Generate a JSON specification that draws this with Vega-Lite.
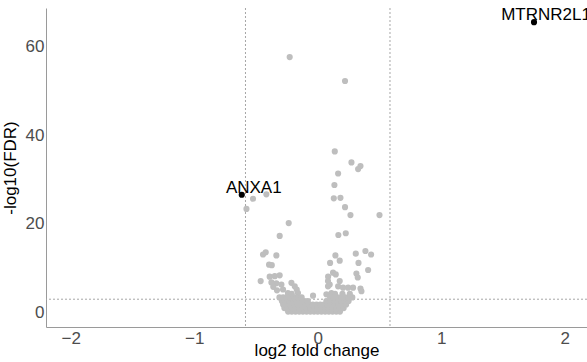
{
  "$schema": "https://vega.github.io/schema/vega-lite/v6.json",
  "width": 541,
  "height": 319,
  "autosize": {"type": "none"},
  "padding": {"left": 46, "top": 8, "right": 0, "bottom": 35},
  "background": "white",
  "config": {
    "view": {"stroke": null},
    "font": "Liberation Sans",
    "axis": {"grid": false, "ticks": false, "domainColor": "#9a9a9a", "domainWidth": 1, "labelColor": "#4d4d4d", "labelFontSize": 17, "titleFontSize": 17, "titleFontWeight": "normal", "titleColor": "#000000", "labelFont": "Liberation Sans", "titleFont": "Liberation Sans"}
  },
  "datasets": {
    "genes": [
      {"lfc": -0.227, "nlp": 57.7, "gene": ""}, {"lfc": 0.221, "nlp": 52.3, "gene": ""},
      {"lfc": -0.524, "nlp": 25.7, "gene": ""}, {"lfc": -0.416, "nlp": 26.7, "gene": ""}, {"lfc": -0.577, "nlp": 23.4, "gene": ""}, {"lfc": -0.235, "nlp": 20.2, "gene": ""}, {"lfc": -0.308, "nlp": 17.3, "gene": ""},
      {"lfc": 0.138, "nlp": 36.4, "gene": ""}, {"lfc": 0.273, "nlp": 33.9, "gene": ""}, {"lfc": 0.346, "nlp": 33.1, "gene": ""}, {"lfc": 0.327, "nlp": 32.4, "gene": ""}, {"lfc": 0.165, "nlp": 31.4, "gene": ""}, {"lfc": 0.135, "nlp": 28.8, "gene": ""}, {"lfc": 0.130, "nlp": 25.8, "gene": ""}, {"lfc": 0.184, "nlp": 25.9, "gene": ""}, {"lfc": 0.221, "nlp": 23.8, "gene": ""}, {"lfc": 0.265, "nlp": 22.0, "gene": ""}, {"lfc": 0.50, "nlp": 22.0, "gene": ""}, {"lfc": 0.167, "nlp": 17.5, "gene": ""}, {"lfc": 0.227, "nlp": 17.9, "gene": ""}, {"lfc": 0.386, "nlp": 13.9, "gene": ""}, {"lfc": 0.432, "nlp": 13.1, "gene": ""}, {"lfc": 0.308, "nlp": 13.3, "gene": ""}, {"lfc": 0.143, "nlp": 12.9, "gene": ""}, {"lfc": 0.178, "nlp": 11.7, "gene": ""}, {"lfc": 0.10, "nlp": 11.2, "gene": ""}, {"lfc": 0.33, "nlp": 11.2, "gene": ""}, {"lfc": 0.408, "nlp": 9.6, "gene": ""}, {"lfc": 0.313, "nlp": 8.8, "gene": ""}, {"lfc": 0.324, "nlp": 7.9, "gene": ""}, {"lfc": 0.124, "nlp": 9.0, "gene": ""}, {"lfc": 0.084, "nlp": 8.1, "gene": ""}, {"lfc": 0.146, "nlp": 8.6, "gene": ""}, {"lfc": 0.097, "nlp": 6.3, "gene": ""}, {"lfc": 0.111, "nlp": 4.4, "gene": ""}, {"lfc": 0.07, "nlp": 4.1, "gene": ""}, {"lfc": -0.038, "nlp": 3.8, "gene": ""}, {"lfc": 0.205, "nlp": 5.6, "gene": ""}, {"lfc": 0.246, "nlp": 5.6, "gene": ""}, {"lfc": 0.286, "nlp": 5.6, "gene": ""}, {"lfc": 0.346, "nlp": 5.4, "gene": ""}, {"lfc": 0.354, "nlp": 4.8, "gene": ""}, {"lfc": 0.165, "nlp": 5.9, "gene": ""}, {"lfc": 0.178, "nlp": 7.1, "gene": ""}, {"lfc": 0.083, "nlp": 7.1, "gene": ""}, {"lfc": 0.083, "nlp": 5.9, "gene": ""},
      {"lfc": -0.443, "nlp": 13.1, "gene": ""}, {"lfc": -0.421, "nlp": 13.6, "gene": ""}, {"lfc": -0.335, "nlp": 12.9, "gene": ""}, {"lfc": -0.394, "nlp": 10.8, "gene": ""}, {"lfc": -0.372, "nlp": 10.7, "gene": ""}, {"lfc": -0.462, "nlp": 7.1, "gene": ""}, {"lfc": -0.389, "nlp": 8.1, "gene": ""}, {"lfc": -0.348, "nlp": 8.2, "gene": ""}, {"lfc": -0.308, "nlp": 8.4, "gene": ""}, {"lfc": -0.375, "nlp": 6.8, "gene": ""}, {"lfc": -0.335, "nlp": 6.6, "gene": ""}, {"lfc": -0.294, "nlp": 6.3, "gene": ""}, {"lfc": -0.213, "nlp": 6.7, "gene": ""}, {"lfc": -0.186, "nlp": 5.9, "gene": ""}, {"lfc": -0.281, "nlp": 5.2, "gene": ""}, {"lfc": -0.241, "nlp": 4.4, "gene": ""}, {"lfc": -0.17, "nlp": 5.2, "gene": ""}, {"lfc": -0.16, "nlp": 4.4, "gene": ""}, {"lfc": -0.33, "nlp": 5.0, "gene": ""}, {"lfc": -0.36, "nlp": 5.8, "gene": ""},
      {"lfc": -0.24, "nlp": 0.2, "gene": ""}, {"lfc": -0.21, "nlp": 0.2, "gene": ""}, {"lfc": -0.18, "nlp": 0.2, "gene": ""}, {"lfc": -0.15, "nlp": 0.2, "gene": ""}, {"lfc": -0.12, "nlp": 0.2, "gene": ""}, {"lfc": -0.09, "nlp": 0.2, "gene": ""}, {"lfc": -0.06, "nlp": 0.2, "gene": ""}, {"lfc": -0.03, "nlp": 0.2, "gene": ""}, {"lfc": 0.0, "nlp": 0.2, "gene": ""}, {"lfc": 0.03, "nlp": 0.2, "gene": ""}, {"lfc": 0.06, "nlp": 0.2, "gene": ""}, {"lfc": 0.09, "nlp": 0.2, "gene": ""}, {"lfc": 0.12, "nlp": 0.2, "gene": ""}, {"lfc": 0.15, "nlp": 0.2, "gene": ""}, {"lfc": 0.18, "nlp": 0.2, "gene": ""},
      {"lfc": -0.27, "nlp": 1.0, "gene": ""}, {"lfc": -0.24, "nlp": 1.0, "gene": ""}, {"lfc": -0.21, "nlp": 1.0, "gene": ""}, {"lfc": -0.18, "nlp": 1.0, "gene": ""}, {"lfc": -0.15, "nlp": 1.0, "gene": ""}, {"lfc": -0.12, "nlp": 1.0, "gene": ""}, {"lfc": -0.09, "nlp": 1.0, "gene": ""}, {"lfc": -0.06, "nlp": 1.0, "gene": ""}, {"lfc": -0.03, "nlp": 1.0, "gene": ""}, {"lfc": 0.0, "nlp": 1.0, "gene": ""}, {"lfc": 0.03, "nlp": 1.0, "gene": ""}, {"lfc": 0.06, "nlp": 1.0, "gene": ""}, {"lfc": 0.09, "nlp": 1.0, "gene": ""}, {"lfc": 0.12, "nlp": 1.0, "gene": ""}, {"lfc": 0.15, "nlp": 1.0, "gene": ""}, {"lfc": 0.18, "nlp": 1.0, "gene": ""}, {"lfc": 0.21, "nlp": 1.0, "gene": ""},
      {"lfc": -0.28, "nlp": 1.8, "gene": ""}, {"lfc": -0.25, "nlp": 1.8, "gene": ""}, {"lfc": -0.22, "nlp": 1.8, "gene": ""}, {"lfc": -0.19, "nlp": 1.8, "gene": ""}, {"lfc": -0.16, "nlp": 1.8, "gene": ""}, {"lfc": -0.13, "nlp": 1.8, "gene": ""}, {"lfc": -0.10, "nlp": 1.8, "gene": ""}, {"lfc": -0.07, "nlp": 1.8, "gene": ""}, {"lfc": -0.04, "nlp": 1.8, "gene": ""}, {"lfc": -0.01, "nlp": 1.8, "gene": ""}, {"lfc": 0.02, "nlp": 1.8, "gene": ""}, {"lfc": 0.05, "nlp": 1.8, "gene": ""}, {"lfc": 0.08, "nlp": 1.8, "gene": ""}, {"lfc": 0.11, "nlp": 1.8, "gene": ""}, {"lfc": 0.14, "nlp": 1.8, "gene": ""}, {"lfc": 0.17, "nlp": 1.8, "gene": ""}, {"lfc": 0.20, "nlp": 1.8, "gene": ""}, {"lfc": 0.23, "nlp": 1.8, "gene": ""},
      {"lfc": -0.29, "nlp": 2.6, "gene": ""}, {"lfc": -0.26, "nlp": 2.6, "gene": ""}, {"lfc": -0.23, "nlp": 2.6, "gene": ""}, {"lfc": -0.20, "nlp": 2.6, "gene": ""}, {"lfc": -0.17, "nlp": 2.6, "gene": ""}, {"lfc": -0.14, "nlp": 2.6, "gene": ""}, {"lfc": -0.11, "nlp": 2.6, "gene": ""}, {"lfc": -0.08, "nlp": 2.6, "gene": ""}, {"lfc": 0.07, "nlp": 2.6, "gene": ""}, {"lfc": 0.10, "nlp": 2.6, "gene": ""}, {"lfc": 0.13, "nlp": 2.6, "gene": ""}, {"lfc": 0.16, "nlp": 2.6, "gene": ""}, {"lfc": 0.19, "nlp": 2.6, "gene": ""}, {"lfc": 0.22, "nlp": 2.6, "gene": ""}, {"lfc": 0.25, "nlp": 2.6, "gene": ""},
      {"lfc": -0.31, "nlp": 3.4, "gene": ""}, {"lfc": -0.28, "nlp": 3.4, "gene": ""}, {"lfc": -0.25, "nlp": 3.4, "gene": ""}, {"lfc": -0.22, "nlp": 3.4, "gene": ""}, {"lfc": -0.19, "nlp": 3.4, "gene": ""}, {"lfc": -0.16, "nlp": 3.4, "gene": ""}, {"lfc": -0.13, "nlp": 3.4, "gene": ""}, {"lfc": 0.10, "nlp": 3.4, "gene": ""}, {"lfc": 0.13, "nlp": 3.4, "gene": ""}, {"lfc": 0.16, "nlp": 3.4, "gene": ""}, {"lfc": 0.19, "nlp": 3.4, "gene": ""}, {"lfc": 0.22, "nlp": 3.4, "gene": ""}, {"lfc": 0.25, "nlp": 3.4, "gene": ""}, {"lfc": 0.28, "nlp": 3.4, "gene": ""},
      {"lfc": -0.24, "nlp": 4.2, "gene": ""}, {"lfc": -0.21, "nlp": 4.2, "gene": ""}, {"lfc": 0.14, "nlp": 4.2, "gene": ""}, {"lfc": 0.20, "nlp": 4.2, "gene": ""}, {"lfc": 0.26, "nlp": 4.2, "gene": ""},
      {"lfc": 1.751, "nlp": 65.6, "gene": "MTRNR2L1"},
      {"lfc": -0.615, "nlp": 26.6, "gene": "ANXA1"}
    ]
  },
  "data": {"name": "genes"},
  "encoding": {
    "x": {"field": "lfc", "type": "quantitative", "scale": {"domain": [-2.2, 2.18], "nice": false, "zero": false}, "axis": {"values": [-2, -1, 0, 1, 2], "title": "log2 fold change", "labelPadding": 3, "titlePadding": -4}},
    "y": {"field": "nlp", "type": "quantitative", "scale": {"domain": [-3.28, 68.8], "nice": false, "zero": false}, "axis": {"values": [0, 20, 40, 60], "title": "-log10(FDR)", "labelPadding": 2, "titlePadding": 6}}
  },
  "layer": [
    {
      "data": {"values": [{"v": -0.585}, {"v": 0.585}]},
      "mark": {"type": "rule", "color": "#a6a6a6", "strokeDash": [2, 2], "strokeWidth": 1},
      "encoding": {"x": {"field": "v", "type": "quantitative"}, "y": null}
    },
    {
      "data": {"values": [{"h": 3}]},
      "mark": {"type": "rule", "color": "#a6a6a6", "strokeDash": [2, 2], "strokeWidth": 1},
      "encoding": {"y": {"field": "h", "type": "quantitative"}, "x": null}
    },
    {
      "transform": [{"filter": "datum.gene == ''"}],
      "mark": {"type": "circle", "color": "#bebebe", "opacity": 1, "size": 38}
    },
    {
      "transform": [{"filter": "datum.gene != ''"}],
      "mark": {"type": "circle", "color": "#000000", "opacity": 1, "size": 38}
    },
    {
      "transform": [{"filter": "datum.gene != ''"}],
      "mark": {"type": "text", "fontSize": 17, "color": "#000000", "align": "center", "baseline": "alphabetic", "dx": 12, "dy": -2},
      "encoding": {"text": {"field": "gene"}}
    }
  ]
}
